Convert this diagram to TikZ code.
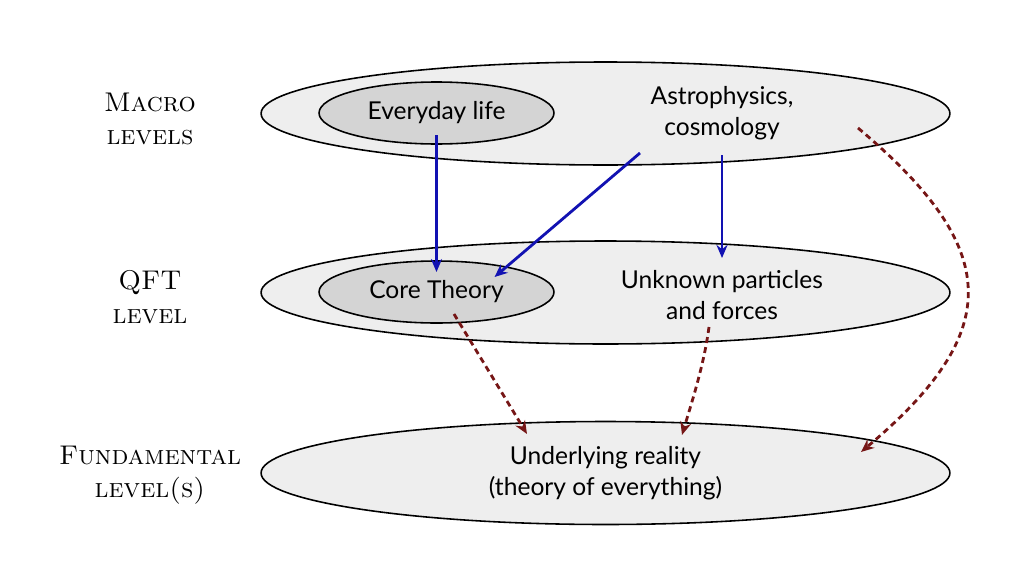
\documentclass[tikz,border=0pt]{standalone}
\usepackage{fontspec}
\newfontfamily\boxfont{Lato}
\usetikzlibrary{calc,arrows.meta,shapes.geometric}
\definecolor{levelgray}{RGB}{238,238,238}
\definecolor{theorygray}{RGB}{212,212,212}
\definecolor{arrowblue}{RGB}{18,18,178}
\definecolor{arrowred}{RGB}{118,22,22}
\tikzstyle{level}=[ellipse, draw=black, line width=0.9pt, fill=levelgray, minimum width=13.78cm, minimum height=2.06cm, inner sep=0pt]
\tikzstyle{theory}=[ellipse, draw=black, line width=0.9pt, fill=theorygray, minimum width=4.7cm, minimum height=1.24cm, inner sep=0pt, font=\boxfont\fontsize{14}{18}\selectfont]
\tikzstyle{annot}=[align=center, inner sep=0pt, font=\boxfont\fontsize{14}{18}\selectfont]
\tikzstyle{sidelabel}=[align=center, inner sep=0pt, font=\fontsize{15.4}{19}\selectfont\scshape]
\tikzstyle{down}=[draw=arrowblue, line width=1.6pt, -{Stealth[length=2.6mm,width=2.2mm]}]
\tikzstyle{reduce}=[draw=arrowred, line width=1.6pt, dash pattern=on 3.4pt off 2.4pt, -{Stealth[length=2.6mm,width=2.2mm]}]

\begin{document}
\begin{tikzpicture}[x=0.02cm, y=-0.02cm]
	\useasboundingbox (0,0) rectangle (1010,568);

	% the three levels
	\node[level](macro) at (605.5,113.5){};
	\node[level](qft) at (605.5,292.5){};
	\node[level](fund) at (605.5,473){};

	\node[theory](life) at (436.5,113){Everyday life};
	\node[theory](core) at (436.5,292){Core Theory};
	\node[annot](astro) at (722,113){Astrophysics,\\cosmology};
	\node[annot](unknown) at (722,295){Unknown particles\\and forces};
	\node[annot](reality) at (605.5,473){Underlying reality\\(theory of everything)};

	\node[sidelabel](lmacro) at (150,119){Macro\\levels};
	\node[sidelabel](lqft) at (150,297){QFT\\level};
	\node[sidelabel](lfund) at (150,475){Fundamental\\level(s)};

	% explanation downwards
	\draw[down] ($(life.center)+(0,22)$) -- ($(core.center)+(0,-20)$);
	\draw[down] ($(astro.center)+(-82,40)$) -- ($(core.center)+(58,-15)$);
	\draw[down] ($(astro.center)+(0,42)$) -- ($(unknown.center)+(0,-37)$);

	% reduction to the fundamental level
	\draw[reduce] ($(core.center)+(17.5,22)$) -- ($(reality.center)+(-78.5,-39)$);
	\draw[reduce] ($(unknown.center)+(-13,32)$) .. controls ($(unknown.center)+(-18,70)$) and ($(reality.center)+(86,-70)$) .. ($(reality.center)+(76.5,-38)$);
	\draw[reduce] ($(astro.center)+(136,15)$) .. controls (1002,249) and (1005,331) .. ($(reality.center)+(255.5,-21)$);
\end{tikzpicture}
\end{document}
